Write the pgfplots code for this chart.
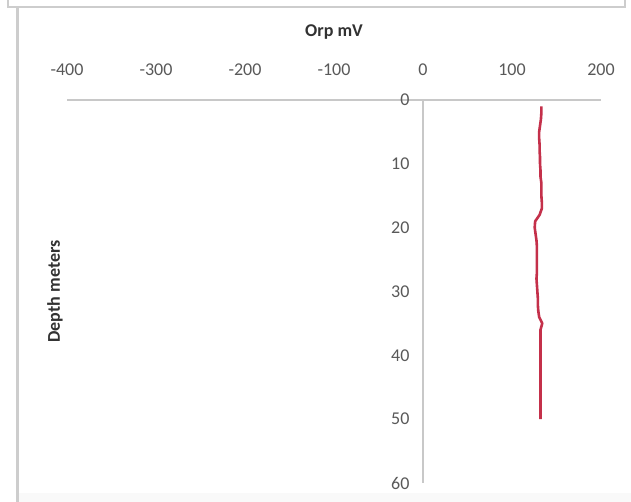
\documentclass[border=0pt]{standalone}
\usepackage{pgfplots}
\pgfplotsset{compat=1.18}
\usepackage{fontspec}
\setmainfont{Carlito}
\definecolor{orpred}{RGB}{196,48,74}
\definecolor{ticktext}{RGB}{89,89,89}
\definecolor{titletext}{RGB}{50,50,50}
\definecolor{gridgray}{RGB}{200,200,200}
\definecolor{framegray}{RGB}{205,205,205}

% ORP profile: depth (m) vs. ORP (mV)
\pgfplotstableread{
depth orp
1 133
2 133
3 132.5
4 131.5
5 130.5
6 130.5
7 131
8 131
9 131.5
10 131.5
11 132
12 132
13 133
14 133
15 133
16 133.5
17 133.5
18 131
19 126
20 125.5
21 126.5
22 127.5
23 128
24 128
25 128
26 128
27 128
28 127.5
29 128
30 128.5
31 129
32 129
33 129.5
34 130.5
35 134
36 132
37 132
38 132
39 132
40 132
41 132
42 132
43 132
44 132
45 132
46 132
47 132
48 132
49 132
50 132
}\orpdata

\begin{document}
\begin{tikzpicture}[x=1pt,y=1pt]
\useasboundingbox (0,0) rectangle (631,502);
\fill[white] (0,0) rectangle (631,502);
% chart-area borders
\draw[line width=2pt, framegray] (8,502) -- (8,495) -- (625,495) -- (625,502);
\draw[line width=3pt, framegray] (17,494) -- (17,0);
\fill[gray!5] (19,0) rectangle (631,9);
\begin{axis}[
  at={(67pt,19pt)}, anchor=south west,
  scale only axis, width=534pt, height=383pt,
  xmin=-400, xmax=200, ymin=0, ymax=60,
  y dir=reverse,
  axis lines=middle,
  axis line style={-, gridgray, line width=1.2pt},
  hide obscured x ticks=false, hide obscured y ticks=false,
  xtick={-400,-300,...,200}, ytick={0,10,...,60},
  major tick length=0pt,
  /pgf/number format/assume math mode=true,
  tick label style={font=\fontsize{18}{20}\selectfont, text=ticktext},
  xticklabel style={anchor=center, yshift=30pt},
  yticklabel style={anchor=east, xshift=-10pt},
  title={\textbf{Orp mV}},
  title style={font=\fontsize{18}{20}\selectfont, text=titletext, anchor=center, at={(0.5,1)}, yshift=62pt},
  ylabel={\textbf{Depth meters}},
  ylabel style={font=\fontsize{18}{20}\selectfont, text=titletext, rotate=90, anchor=center, at={(axis description cs:-0.0225,0.5)}},
  clip=false,
]
\addplot[orpred, line width=2.6pt, line join=round] table[x=orp, y=depth] {\orpdata};
\end{axis}
\end{tikzpicture}
\end{document}
